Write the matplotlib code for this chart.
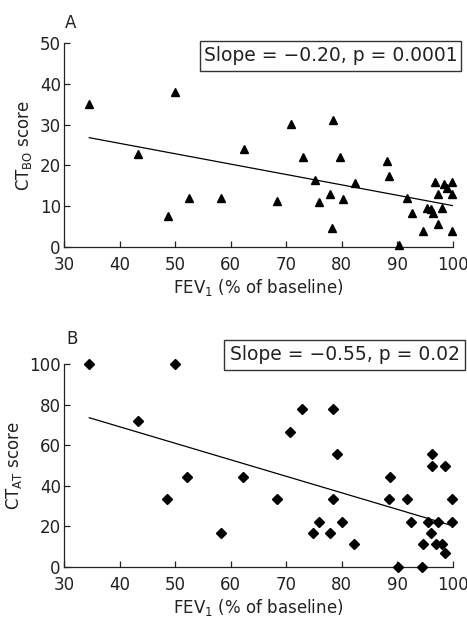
import matplotlib
matplotlib.use("Agg")
import matplotlib.pyplot as plt
from matplotlib.patches import Rectangle

# ---------------- data ----------------
fev_a = [34.5, 43.3, 48.6, 50.0, 52.4, 58.2, 62.3, 68.4, 70.8, 73.1, 75.2, 75.9,
         77.9, 78.2, 78.4, 79.6, 80.2, 82.4, 88.1, 88.6, 90.4, 91.7, 92.6, 94.7,
         95.3, 96.0, 96.5, 96.9, 97.3, 97.4, 98.1, 98.4, 98.9, 99.8, 99.9, 99.8]
ctbo = [35.2, 22.7, 7.5, 38.0, 11.9, 12.0, 23.9, 11.3, 30.2, 22.0, 16.5, 11.1,
        13.0, 4.5, 31.2, 22.1, 11.8, 15.6, 21.1, 17.4, 0.3, 11.9, 8.2, 3.9,
        9.6, 9.2, 8.2, 15.9, 12.9, 5.5, 9.6, 15.5, 14.5, 15.9, 12.9, 3.9]

fev_b = [34.4, 43.3, 48.5, 50.0, 52.2, 58.2, 62.2, 68.4, 70.6, 72.9, 74.9, 75.9,
         77.9, 78.4, 78.4, 79.2, 80.0, 82.2, 88.5, 88.7, 90.2, 91.7, 92.5, 94.4,
         94.7, 95.6, 96.0, 96.3, 96.3, 97.0, 97.4, 98.1, 98.6, 98.7, 99.9, 99.9]
ctat = [100.0, 72.2, 33.3, 100.0, 44.4, 16.7, 44.4, 33.3, 66.7, 77.8, 16.7, 22.2,
        16.7, 33.3, 77.8, 55.6, 22.2, 11.1, 33.3, 44.4, 0.0, 33.3, 22.2, 0.0,
        11.1, 22.2, 16.7, 55.6, 50.0, 11.1, 22.2, 11.1, 50.0, 7.0, 33.3, 22.2]

fit_a_x = [34.5, 100.0]
fit_a_y = [26.8, 10.1]
fit_b_x = [34.5, 100.0]
fit_b_y = [73.6, 20.2]

xticks = [30, 40, 50, 60, 70, 80, 90, 100]
yticks_a = [0, 10, 20, 30, 40, 50]
yticks_b = [0, 20, 40, 60, 80, 100]

label_a = "Slope = \u22120.20, p = 0.0001"
label_b = "Slope = \u22120.55, p = 0.02"

# ---------------- style ----------------
plt.rcParams['font.family'] = ['DejaVu Sans']
plt.rcParams['mathtext.fontset'] = 'dejavusans'
FS = 12
TXT = '#222222'

W, H = 467, 617
fig = plt.figure(figsize=(W / 100, H / 100), dpi=100)


def px_axes(left, top, right, bottom):
    return fig.add_axes([left / W, 1 - bottom / H, (right - left) / W, (bottom - top) / H])


def style(ax, yticks, ylim):
    ax.set_xlim(30, 100)
    ax.set_ylim(*ylim)
    ax.set_xticks(xticks)
    ax.set_yticks(yticks)
    for s in ['top', 'right']:
        ax.spines[s].set_visible(False)
    for s in ['left', 'bottom']:
        ax.spines[s].set_linewidth(0.9)
        ax.spines[s].set_color('#222222')
    ax.tick_params(axis='both', direction='in', length=4, width=0.9,
                   colors='#222222', labelsize=FS, labelcolor=TXT)
    ax.tick_params(axis='x', pad=6.5)
    ax.tick_params(axis='y', pad=2.5)
    ax.set_xlabel(r"FEV$_{\mathregular{1}}$ (% of baseline)", fontsize=FS, color=TXT, labelpad=2)


# Panel A
axA = px_axes(64.3, 43.3, 452.7, 246.7)
style(axA, yticks_a, (0, 50))
axA.plot(fit_a_x, fit_a_y, color='black', lw=0.9)
axA.plot(fev_a, ctbo, linestyle='none', marker='^', ms=5.2, color='black', clip_on=False, zorder=3)
axA.set_ylabel(r"CT$_{\mathregular{BO}}$ score", fontsize=FS, color=TXT, labelpad=4)

# Panel B
axB = px_axes(64.3, 364.3, 452.7, 566.7)
style(axB, yticks_b, (0, 100))
axB.plot(fit_b_x, fit_b_y, color='black', lw=0.9)
axB.plot(fev_b, ctat, linestyle='none', marker='D', ms=4.8, color='black', clip_on=False, zorder=3)
axB.set_ylabel(r"CT$_{\mathregular{AT}}$ score", fontsize=FS, color=TXT, labelpad=4)

# panel letters
fig.text(65 / W, 1 - 28 / H, "A", fontsize=FS, color=TXT, ha='left', va='baseline')
fig.text(66 / W, 1 - 343.5 / H, "B", fontsize=FS, color=TXT, ha='left', va='baseline')


def box(left, top, right, bottom, text):
    fig.patches.append(Rectangle((left / W, 1 - bottom / H), (right - left) / W, (bottom - top) / H,
                                 transform=fig.transFigure, fill=False, edgecolor='#333333', lw=1.0))
    fig.text((left + right) / 2 / W, 1 - (top + bottom) / 2 / H, text, fontsize=13.5, color=TXT,
             ha='center', va='center')


box(200, 40.5, 461, 70.5, label_a)
box(224, 340, 465.5, 369.5, label_b)

fig.savefig("out.png", dpi=100)
